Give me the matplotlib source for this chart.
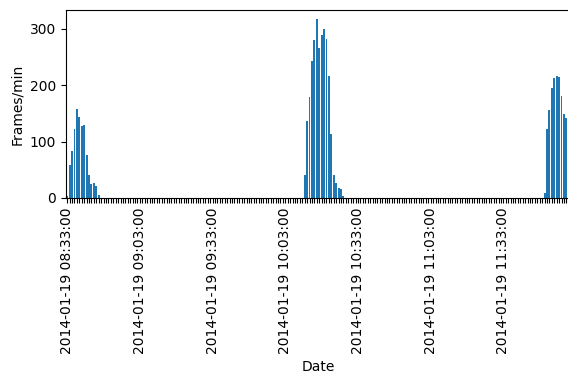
import pandas as pd
import matplotlib
matplotlib.use("Agg")
import matplotlib.pyplot as plt

# frames per minute; idle minutes between bursts are 0
burst_1 = [4, 59, 84, 123, 157, 143, 127, 130, 77, 41, 24, 27, 22, 6]
idle_1 = [0] * 84
burst_2 = [41, 137, 178, 242, 279, 317, 266, 289, 299, 282, 216, 114, 40, 26, 18, 16, 4]
idle_2 = [0] * 82
burst_3 = [9, 123, 156, 194, 213, 216, 215, 180, 148, 141, 100]

frames_per_min = burst_1 + idle_1 + burst_2 + idle_2 + burst_3
dates = pd.date_range("2014-01-19 08:33:00", periods=len(frames_per_min), freq="min")
label_every = 30

fig = plt.figure(figsize=(5.68, 3.76), dpi=100)
# the original was cropped on the right, so the axes run slightly past the figure edge
ax = fig.add_axes([66 / 568, 1 - 198 / 376, 504 / 568, 188 / 376])

positions = range(len(frames_per_min))
ax.bar(positions, frames_per_min, width=0.8, color="#1f77b4")

tick_labels = [d.strftime("%Y-%m-%d %H:%M:%S") if i % label_every == 0 else ""
               for i, d in enumerate(dates)]
ax.set_xticks(list(positions))
ax.set_xticklabels(tick_labels, rotation=90)
ax.set_xlim(-0.5, len(frames_per_min) - 0.5)
ax.set_yticks([0, 100, 200, 300])

ax.set_xlabel("Date")
ax.set_ylabel("Frames/min")

fig.savefig("out.png", dpi=100)
